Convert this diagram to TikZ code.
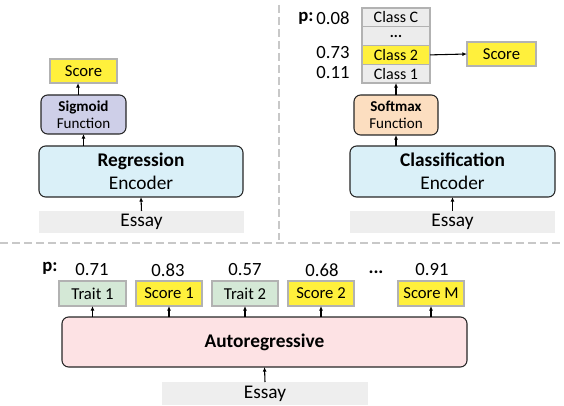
\documentclass[tikz,border=0pt]{standalone}
\usepackage{fontspec}
\setmainfont{Carlito}
\usetikzlibrary{arrows.meta}
\definecolor{ylw}{RGB}{255,240,60}
\definecolor{lav}{RGB}{206,207,232}
\definecolor{peach}{RGB}{252,222,192}
\definecolor{encb}{RGB}{218,240,248}
\definecolor{pinkb}{RGB}{253,226,228}
\definecolor{grn}{RGB}{212,232,214}
\definecolor{essg}{RGB}{238,238,238}
\definecolor{clsg}{RGB}{236,236,236}
\definecolor{sepg}{RGB}{200,200,200}
\newcommand\fL{\fontsize{14.5}{17.25}\selectfont}
\newcommand\fM{\fontsize{12.5}{14}\selectfont}
\newcommand\fC{\fontsize{12}{13}\selectfont}
\newcommand\fS{\fontsize{11.3}{13}\selectfont}
\newcommand\fN{\fontsize{14}{15}\selectfont}
\def\PX{0.75pt}
\tikzset{
  every node/.style={inner sep=0pt, outer sep=0pt},
  sz/.style 2 args={minimum width=#1*\PX, minimum height=#2*\PX},
  rbox/.style={draw=black!85, line width=0.8pt, rounded corners=5pt, align=center},
  lbl/.style={draw=black!30, line width=0.8pt, font=\fM},
  clsbox/.style={draw=black!30, line width=0.8pt, font=\fC, sz={68}{18.75}},
  essay/.style={fill=essg, font=\fL},
  num/.style={font=\fN},
  arr/.style={-{Latex[length=3.5pt,width=3pt]}, line width=0.8pt},
  sepline/.style={draw=sepg, line width=1.1pt, dash pattern=on 6pt off 3pt}
}
\begin{document}
\begin{tikzpicture}[x=0.75pt,y=-0.75pt]
\useasboundingbox (0,0) rectangle (564,406);
% separators
\coordinate (vt) at (279,5);
\coordinate (vb) at (279,240);
\coordinate (hl) at (0,243);
\coordinate (hr) at (564,243);
\draw[sepline] (vt) -- (vb);
\draw[sepline] (hl) -- (hr);
% left panel
\node[lbl, fill=ylw, sz={67}{24}] (scoreL) at (83.5,71) {Score};
\node[rbox, fill=lav, sz={85}{39}, font=\fS] (sig) at (83.5,114.5) {\textbf{Sigmoid}\\Function};
\node[rbox, fill=encb, sz={204}{51}, font=\fL] (reg) at (141,171.5) {\textbf{Regression}\\Encoder};
\node[essay, sz={205}{22}] (essL) at (141.5,222) {Essay};
\draw[arr] ([xshift=-4.1pt]sig.north) -- ([xshift=-4.1pt]scoreL.south);
\draw[arr] (reg.north -| sig.south) -- (sig.south);
\draw[arr] (essL.north) -- (reg.south);
% right panel
\node[num] (pR) at (306,18) {\textbf{p:}};
\node[num] (n08) at (333,18) {0.08};
\node[num] (n73) at (333,53) {0.73};
\node[num] (n11) at (333,73) {0.11};
\node[clsbox, fill=clsg] (cC) at (396,17.4) {Class C};
\node[clsbox, fill=clsg, font=\fS] (cD) at (396,36.1) {\textbf{...}};
\node[clsbox, fill=ylw] (c2) at (396,54.9) {Class 2};
\node[clsbox, fill=clsg] (c1) at (396,73.6) {Class 1};
\node[lbl, fill=ylw, sz={69}{24}] (scoreR) at (501.5,54) {Score};
\draw[arr] (c2.east) -- (scoreR.west);
\node[rbox, fill=peach, sz={84}{40}, font=\fS] (soft) at (396,115) {\textbf{Softmax}\\Function};
\node[rbox, fill=encb, sz={205}{51}, font=\fL] (cenc) at (452.5,171.5) {\textbf{Classification}\\Encoder};
\node[essay, sz={205}{22}] (essR) at (452.5,222) {Essay};
\draw[arr] (soft.north) -- (c1.south);
\draw[arr] (cenc.north -| soft.south) -- (soft.south);
\draw[arr] (essR.north) -- (cenc.south);
% bottom panel
\node[num] (pB) at (50,268) {\textbf{p:}};
\node[num] (b71) at (92,270) {0.71};
\node[num] (b83) at (168,270) {0.83};
\node[num] (b57) at (245,270) {0.57};
\node[num] (b68) at (322,270) {0.68};
\node[num] (bdots) at (376,272) {\textbf{...}};
\node[num] (b91) at (432,270) {0.91};
\node[lbl, fill=grn, sz={67}{25}] (t1) at (92.5,293.5) {Trait 1};
\node[lbl, fill=ylw, sz={66}{25}] (s1) at (169,293.5) {Score 1};
\node[lbl, fill=grn, sz={66}{25}] (t2) at (245,293.5) {Trait 2};
\node[lbl, fill=ylw, sz={66}{25}] (s2) at (321,293.5) {Score 2};
\node[lbl, fill=ylw, sz={66}{25}] (sM) at (431,293.5) {Score M};
\node[rbox, fill=pinkb, sz={405}{50}, font=\fL] (auto) at (264.5,342) {\textbf{Autoregressive}};
\node[essay, sz={206}{23}] (essB) at (265,393.5) {Essay};
\foreach \b in {t1,s1,t2,s2,sM}{
  \draw[arr] (auto.north -| \b.south) -- (\b.south);
}
\draw[arr] (essB.north) -- (auto.south);
\end{tikzpicture}
\end{document}
